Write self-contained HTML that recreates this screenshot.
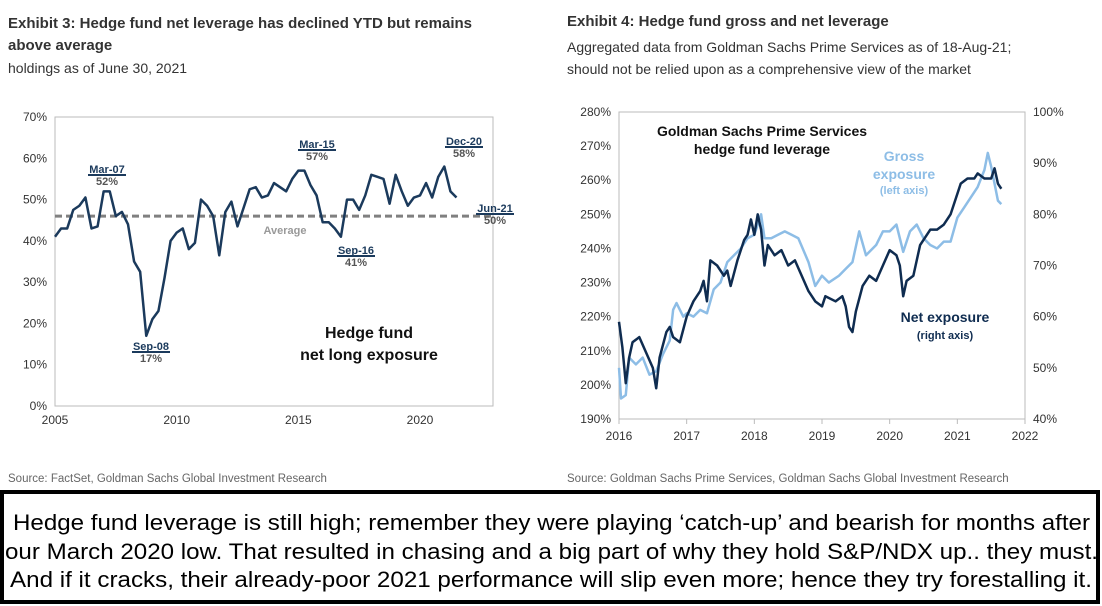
<!DOCTYPE html>
<html><head><meta charset="utf-8"><style>
body{margin:0;width:1102px;height:606px;background:#fff;font-family:"Liberation Sans",sans-serif;overflow:hidden;position:relative}
.t{position:absolute;white-space:nowrap}
</style></head><body>
<div class="t" style="left:8px;top:13px;font-size:15px;font-weight:bold;color:#333;line-height:22px">Exhibit 3: Hedge fund net leverage has declined YTD but remains<br>above average</div>
<div class="t" style="left:8px;top:60px;font-size:14px;color:#333">holdings as of June 30, 2021</div>
<div class="t" style="left:567px;top:13px;font-size:15px;font-weight:bold;color:#333">Exhibit 4: Hedge fund gross and net leverage</div>
<div class="t" style="left:567px;top:36px;font-size:14px;color:#333;line-height:22px">Aggregated data from Goldman Sachs Prime Services as of 18-Aug-21;<br>should not be relied upon as a comprehensive view of the market</div>
<div class="t" style="left:8px;top:473px;font-size:11.5px;color:#666">Source: FactSet, Goldman Sachs Global Investment Research</div>
<div class="t" style="left:567px;top:473px;font-size:11.5px;color:#666">Source: Goldman Sachs Prime Services, Goldman Sachs Global Investment Research</div>
<svg width="1102" height="116" style="position:absolute;left:0;top:490px" font-family="Liberation Sans, sans-serif" font-size="22">
<rect x="2" y="2" width="1096" height="110" fill="#fff" stroke="#000" stroke-width="4"/>
<text x="13" y="40" textLength="1077" lengthAdjust="spacingAndGlyphs">Hedge fund leverage is still high; remember they were playing ‘catch-up’ and bearish for months after</text>
<text x="5" y="69" textLength="1093" lengthAdjust="spacingAndGlyphs">our March 2020 low. That resulted in chasing and a big part of why they hold S&amp;P/NDX up.. they must.</text>
<text x="10" y="97" textLength="1082" lengthAdjust="spacingAndGlyphs">And if it cracks, their already-poor 2021 performance will slip even more; hence they try forestalling it.</text>
</svg>
<svg id="c" width="1102" height="490" style="position:absolute;left:0;top:0" font-family="Liberation Sans, sans-serif"></svg>
<script>
// Left chart data
const leftYears=[2005,2005.25,2005.5,2005.75,2006,2006.25,2006.5,2006.75,2007,2007.25,2007.5,2007.75,2008,2008.25,2008.5,2008.75,2009,2009.25,2009.5,2009.75,2010,2010.25,2010.5,2010.75,2011,2011.25,2011.5,2011.75,2012,2012.25,2012.5,2012.75,2013,2013.25,2013.5,2013.75,2014,2014.25,2014.5,2014.75,2015,2015.25,2015.5,2015.75,2016,2016.25,2016.5,2016.75,2017,2017.25,2017.5,2017.75,2018,2018.25,2018.5,2018.75,2019,2019.25,2019.5,2019.75,2020,2020.25,2020.5,2020.75,2021,2021.25,2021.5];
const leftValues=[41,43,43,47.5,48.5,50.5,43,43.5,52,52,46,47,44,35,32.5,17,21,23,31,40,42,43,38,39.5,50,48.5,46,36.5,47,49.5,43.5,48,52.5,53,50.5,51,54,53,52,55,57,57,53.5,51,44.5,44.5,43,41,50,50,47.5,51,56,55.5,55,49,56,52,48.5,50.5,51,54,50.5,55.5,58,52,50.5];
const leftAverage=46;
const leftYTicks=[0,10,20,30,40,50,60,70];
const leftXTicks=[2005,2010,2015,2020];
// Right chart data
const netYears=[2016,2016.05,2016.1,2016.15,2016.2,2016.3,2016.4,2016.5,2016.55,2016.6,2016.7,2016.75,2016.8,2016.9,2017,2017.1,2017.2,2017.25,2017.3,2017.35,2017.45,2017.55,2017.6,2017.65,2017.75,2017.85,2017.9,2017.95,2018,2018.05,2018.1,2018.15,2018.2,2018.3,2018.4,2018.5,2018.6,2018.7,2018.8,2018.9,2019,2019.05,2019.2,2019.3,2019.35,2019.4,2019.45,2019.5,2019.6,2019.7,2019.8,2019.9,2020,2020.1,2020.15,2020.2,2020.25,2020.35,2020.45,2020.55,2020.6,2020.7,2020.8,2020.9,2021,2021.05,2021.15,2021.25,2021.3,2021.4,2021.5,2021.55,2021.6,2021.65];
const netValues=[59,54,47,52,55,56,53,50,46,52,57,58,56,55,60,63,65,67,63,71,70,68,69,66,71,75,76,79,76,80,77,70,74,72,73,70,71,68,65,63,62,64,63,64,62,58,57,61,66,68,67,70,73,72,70,64,67,68,74,76,77,77,78,80,84,86,87,87,88,87,87,89,86,85];
const grossYears=[2016,2016.03,2016.1,2016.15,2016.25,2016.35,2016.45,2016.55,2016.65,2016.75,2016.8,2016.85,2016.95,2017,2017.1,2017.2,2017.3,2017.4,2017.5,2017.6,2017.7,2017.8,2017.9,2018,2018.1,2018.15,2018.25,2018.35,2018.45,2018.55,2018.65,2018.8,2018.9,2019,2019.1,2019.25,2019.35,2019.45,2019.55,2019.65,2019.8,2019.9,2020,2020.1,2020.2,2020.3,2020.4,2020.5,2020.6,2020.7,2020.8,2020.9,2021,2021.1,2021.2,2021.3,2021.4,2021.45,2021.5,2021.55,2021.6,2021.65];
const grossValues=[205,196,197,208,206,208,203,204,209,213,222,224,220,221,220,222,221,228,230,236,238,240,243,244,250,243,243,244,245,244,243,236,229,232,230,232,234,236,245,238,241,245,245,247,239,245,247,243,241,240,242,242,249,252,255,258,263,268,264,259,254,253];
const rightLeftTicks=[190,200,210,220,230,240,250,260,270,280];
const rightRightTicks=[40,50,60,70,80,90,100];
const rightXTicks=[2016,2017,2018,2019,2020,2021,2022];

const svg=document.getElementById('c');const NS='http://www.w3.org/2000/svg';
function mk(tag,attrs,parent){const e=document.createElementNS(NS,tag);for(const k in attrs)e.setAttribute(k,attrs[k]);(parent||svg).appendChild(e);return e;}
function txt(x,y,s,attrs){const e=mk('text',Object.assign({x:x,y:y},attrs));e.textContent=s;return e;}

// Left axes
const lx=y=>55+(y-2005)*(438/18), ly=v=>406-v*(289/70);
const lframe=mk('rect',{x:55,y:117,width:438,height:289,fill:'none',stroke:'#bbb'});


leftYTicks.forEach(v=>{const t=txt(47,ly(v)+4,v+'%',{'text-anchor':'end','font-size':12,fill:'#333'});

});
leftXTicks.forEach(v=>{const t=txt(lx(v),424,String(v),{'text-anchor':'middle','font-size':12,fill:'#333'});

});
const avg=mk('line',{x1:55,x2:493,y1:ly(leftAverage),y2:ly(leftAverage),stroke:'#808080','stroke-width':3,'stroke-dasharray':'7,4'});


const avl=txt(285,234,'Average',{'text-anchor':'middle','font-size':11,fill:'#999','font-weight':'bold'});


const lp=mk('polyline',{points:leftYears.map((y,i)=>lx(y)+','+ly(leftValues[i])).join(' '),fill:'none',stroke:'#1b3a5c','stroke-width':2.5,'stroke-linejoin':'round'});


const anns=[['Mar-07','52%',107,173],['Sep-08','17%',151,350],['Mar-15','57%',317,148],['Sep-16','41%',356,254],['Dec-20','58%',464,145],['Jun-21','50%',495,212]];
anns.forEach(a=>{const g=mk('g',{});


const t1=mk('text',{x:a[2],y:a[3],'text-anchor':'middle','font-size':11,fill:'#1b3a5c','font-weight':'bold'},g);t1.textContent=a[0];
mk('line',{x1:a[2]-19,x2:a[2]+19,y1:a[3]+2,y2:a[3]+2,stroke:'#1b3a5c','stroke-width':2},g);
const t2=mk('text',{x:a[2],y:a[3]+12,'text-anchor':'middle','font-size':11,fill:'#555','font-weight':'bold'},g);t2.textContent=a[1];});
const hl=txt(369,338,'Hedge fund',{'text-anchor':'middle','font-size':16,'font-weight':'bold',fill:'#111'});


txt(369,360,'net long exposure',{'text-anchor':'middle','font-size':16,'font-weight':'bold',fill:'#111'});

// Right axes
const rx=y=>619+(y-2016)*(406/6), rly=v=>419-(v-190)*(307/90), rry=v=>419-(v-40)*(307/60);
const rframe=mk('rect',{x:619,y:112,width:406,height:307,fill:'none',stroke:'#bbb'});


rightLeftTicks.forEach(v=>{const t=txt(611,rly(v)+4,v+'%',{'text-anchor':'end','font-size':12,fill:'#333'});

});
rightRightTicks.forEach(v=>{const t=txt(1033,rry(v)+4,v+'%',{'text-anchor':'start','font-size':12,fill:'#333'});

});
rightXTicks.forEach(v=>{const t=txt(rx(v),440,String(v),{'text-anchor':'middle','font-size':12,fill:'#333'});


mk('line',{x1:rx(v),x2:rx(v),y1:419,y2:424,stroke:'#bbb'});});
const gp=mk('polyline',{points:grossYears.map((y,i)=>rx(y)+','+rly(grossValues[i])).join(' '),fill:'none',stroke:'#8dbde6','stroke-width':2.5,'stroke-linejoin':'round'});


const np=mk('polyline',{points:netYears.map((y,i)=>rx(y)+','+rry(netValues[i])).join(' '),fill:'none',stroke:'#0f2c50','stroke-width':2.5,'stroke-linejoin':'round'});


const rt=txt(762,136,'Goldman Sachs Prime Services',{'text-anchor':'middle','font-size':14,'font-weight':'bold',fill:'#111'});


txt(762,154,'hedge fund leverage',{'text-anchor':'middle','font-size':14,'font-weight':'bold',fill:'#111'});
const gl=txt(904,161,'Gross',{'text-anchor':'middle','font-size':14,'font-weight':'bold',fill:'#8dbde6'});


txt(904,179,'exposure',{'text-anchor':'middle','font-size':14,'font-weight':'bold',fill:'#8dbde6'});
txt(904,194,'(left axis)',{'text-anchor':'middle','font-size':11,'font-weight':'bold',fill:'#8dbde6'});
const nl=txt(945,322,'Net exposure',{'text-anchor':'middle','font-size':14,'font-weight':'bold',fill:'#0f2c50'});


txt(945,339,'(right axis)',{'text-anchor':'middle','font-size':11,'font-weight':'bold',fill:'#0f2c50'});
</script>
</body></html>
